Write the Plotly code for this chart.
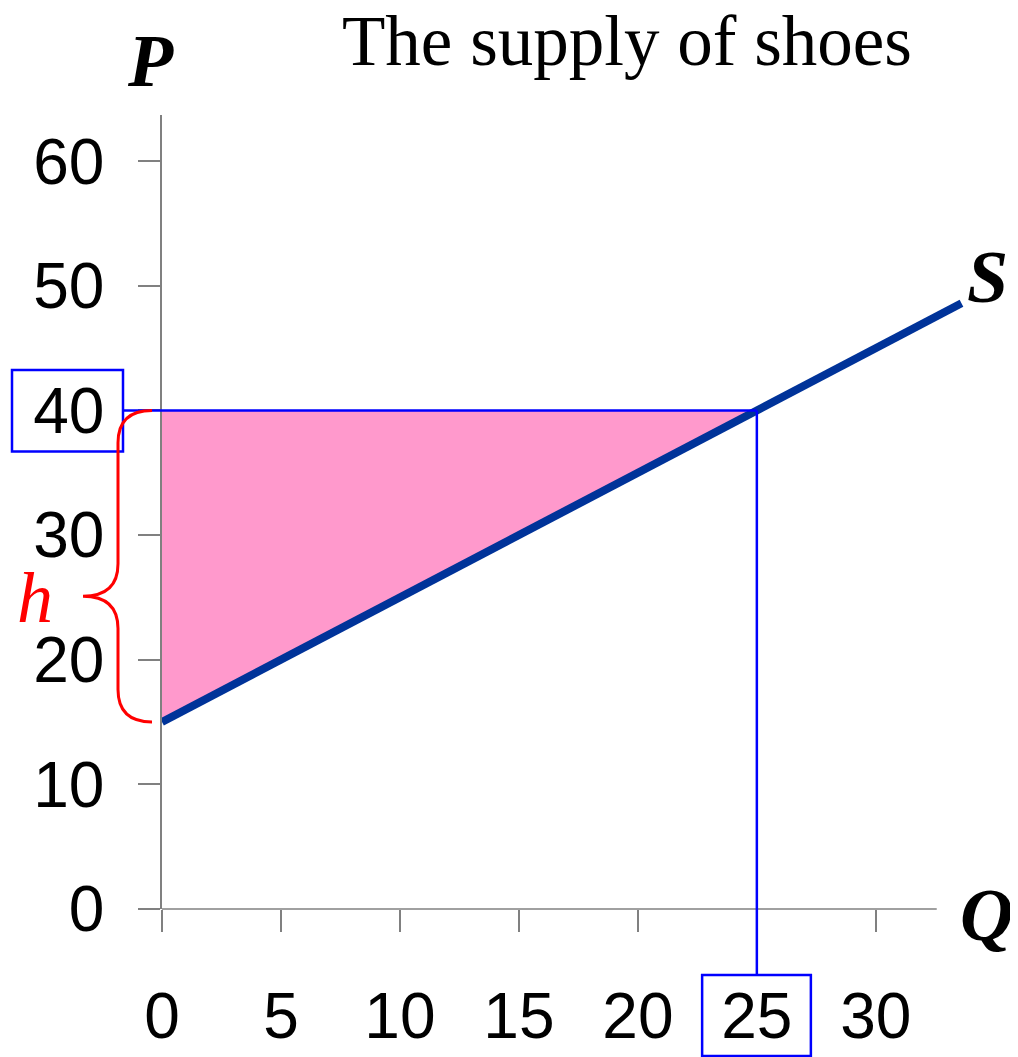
import plotly.graph_objects as go

# ---- data ----
x_ticks = [0, 5, 10, 15, 20, 25, 30]
y_ticks = [0, 10, 20, 30, 40, 50, 60]
supply_q = [0, 33.6]
supply_p = [15, 48.6]
surplus_q = [0, 0, 25, 0]
surplus_p = [15, 40, 40, 15]
eq_q = 25
eq_p = 40
title_text = "The supply of shoes"

# ---- layout geometry ----
OFF = 8  # page body margin
W, H = 1018, 1057
L, T = 162 - OFF, 115 - OFF
PW, PH = 809, 794
R, B = W - L - PW, H - T - PH
XMAX = 34.0
YMAX = 63.7
X_AXIS_END = 32.56


def px2x(px):
    return (px - OFF - L) / PW


def px2y(py):
    return (T + PH - (py - OFF)) / PH


fig = go.Figure()
fig.add_trace(go.Scatter(x=surplus_q, y=surplus_p, mode="lines", fill="toself",
                         fillcolor="#FF99CC", line=dict(width=0), hoverinfo="skip",
                         showlegend=False))
fig.add_trace(go.Scatter(x=supply_q, y=supply_p, mode="lines",
                         line=dict(color="#003399", width=8), showlegend=False))

tickfont = dict(family="Liberation Sans, Arial, sans-serif", size=64, color="black")
fig.update_xaxes(range=[0, XMAX], domain=[0, 1], tickvals=x_ticks, ticktext=[str(v) for v in x_ticks],
                 ticks="outside", ticklen=22, tickwidth=1.5, tickcolor="#808080",
                 showline=False, showgrid=False, zeroline=False, tickfont=tickfont,
                 ticklabelstandoff=29)
fig.update_yaxes(range=[0, YMAX], domain=[0, 1], tickvals=y_ticks, ticktext=[str(v) for v in y_ticks],
                 ticks="outside", ticklen=22, tickwidth=1.5, tickcolor="#808080",
                 showline=True, linecolor="#808080", linewidth=1.5,
                 showgrid=False, zeroline=False, tickfont=tickfont, ticklabelstandoff=21)

shapes = []
# x axis line (visible part only)
shapes.append(dict(type="line", xref="x", yref="paper", x0=0, x1=X_AXIS_END, y0=0, y1=0,
                   line=dict(color="#808080", width=1.5), layer="below"))
blue = dict(color="#0000FF", width=2.5)
# horizontal guide at P=40
shapes.append(dict(type="line", xref="paper", yref="y", x0=px2x(123), x1=eq_q / XMAX,
                   y0=eq_p, y1=eq_p, line=blue))
# vertical guide at Q=25
shapes.append(dict(type="line", xref="x", yref="paper", x0=eq_q, x1=eq_q,
                   y0=eq_p / YMAX, y1=px2y(975), line=blue))
# box around 40
shapes.append(dict(type="rect", xref="paper", yref="y", x0=px2x(12), x1=px2x(123),
                   y0=eq_p - 3.3, y1=eq_p + 3.25, line=blue))
# box around 25
shapes.append(dict(type="rect", xref="x", yref="paper", x0=22.7, x1=27.27,
                   y0=px2y(1056), y1=px2y(975), line=blue))

# red brace from P=15 to P=40 (tip sits a little below the middle)
xr, xm, xt = px2x(152), px2x(118), px2x(83)
top, bot = surplus_p[1], surplus_p[0]
tip = 25.1
c = 2.6
path = (f"M {xr},{top} Q {xm},{top} {xm},{top - c} L {xm},{tip + c} "
        f"Q {xm},{tip} {xt},{tip} Q {xm},{tip} {xm},{tip - c} "
        f"L {xm},{bot + c} Q {xm},{bot} {xr},{bot}")
shapes.append(dict(type="path", xref="paper", yref="y", path=path,
                   line=dict(color="#FF0000", width=3)))

serif_bi = "Liberation Serif, Times New Roman, serif"
annotations = [
    dict(text=title_text, x=px2x(627), y=px2y(41), xref="paper", yref="paper",
         showarrow=False, xanchor="center", yanchor="middle",
         font=dict(family=serif_bi, size=71, color="black")),
    dict(text="<b><i>P</i></b>", x=px2x(150), y=px2y(61), xref="paper", yref="paper",
         showarrow=False, xanchor="center", yanchor="middle",
         font=dict(family=serif_bi, size=74, color="black")),
    dict(text="<b><i>S</i></b>", x=px2x(987), y=px2y(277), xref="paper", yref="paper",
         showarrow=False, xanchor="center", yanchor="middle",
         font=dict(family=serif_bi, size=74, color="black")),
    dict(text="<b><i>Q</i></b>", x=px2x(986), y=px2y(915), xref="paper", yref="paper",
         showarrow=False, xanchor="center", yanchor="middle",
         font=dict(family=serif_bi, size=74, color="black")),
    dict(text="<i>h</i>", x=px2x(35), y=px2y(598), xref="paper", yref="paper",
         showarrow=False, xanchor="center", yanchor="middle",
         font=dict(family=serif_bi, size=72, color="#FF0000")),
]

fig.update_layout(width=W, height=H, margin=dict(l=L, r=R, t=T, b=B, autoexpand=False),
                  plot_bgcolor="white", paper_bgcolor="white", showlegend=False,
                  shapes=shapes, annotations=annotations)

fig.write_html("out.html")
